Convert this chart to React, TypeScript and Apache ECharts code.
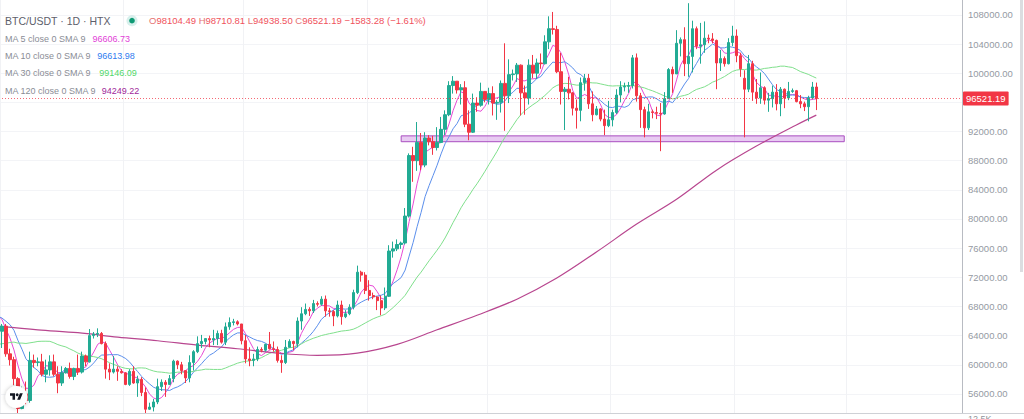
import React, { useEffect, useRef } from "react";
import * as echarts from "echarts";

// Daily closes before the first visible candle (used only to warm up the moving averages)
const priorCloses = [
  62000, 60200, 57000, 56600, 58200, 55800, 56700, 58000, 57700, 57300,
  57900, 59200, 60800, 64700, 65000, 64100, 63900, 66700, 67100, 68200,
  67600, 65900, 65400, 65800, 67900, 68000, 68200, 66800, 66200,
];

// Visible daily candles: [open, high, low, close]
const candles: number[][] = [
  [66500, 66900, 64300, 64600], [64600, 65600, 62300, 65300], [65300, 65600, 61100, 61500], [61500, 62200, 59900, 60700],
  [60700, 61100, 57200, 58100], [58100, 58300, 49000, 54000], [54000, 57000, 53900, 56000], [56000, 57700, 54600, 55100],
  [55100, 61800, 54800, 60600], [60600, 61400, 59600, 60300], [60300, 61000, 59800, 60400], [60400, 61500, 58400, 58700],
  [58700, 60700, 57600, 59300], [59300, 61300, 58500, 60400], [60400, 61400, 58400, 58700], [58700, 59800, 56100, 57500],
  [57500, 59800, 57100, 58900], [58900, 59700, 58800, 59500], [59500, 60300, 58100, 58400], [58400, 59600, 57900, 59500],
  [59500, 61400, 58600, 59000], [59000, 61800, 58800, 61200], [61200, 61400, 59800, 60400], [60400, 64900, 60300, 64000],
  [64000, 64500, 63600, 64200], [64200, 65000, 63800, 64300], [64300, 64500, 62800, 62900], [62900, 63200, 58100, 59400],
  [59400, 60200, 57900, 59000], [59000, 61200, 58800, 59400], [59400, 59800, 57800, 59100], [59100, 59400, 58800, 58900],
  [58900, 59000, 57200, 57300], [57300, 59400, 57100, 59100], [59100, 59800, 57400, 57500], [57500, 58500, 55600, 58000],
  [58000, 58300, 55700, 56200], [56200, 56900, 52600, 53900], [53900, 54800, 53800, 54200], [54200, 55300, 53600, 54900],
  [54900, 58100, 54600, 57000], [57000, 58000, 56400, 57600], [57600, 57900, 55600, 57300], [57300, 58600, 57300, 58100],
  [58100, 60700, 57600, 60500], [60500, 60600, 59400, 60000], [60000, 60400, 58700, 59200], [59200, 59200, 57500, 58200],
  [58200, 61300, 57600, 60300], [60300, 62000, 59200, 61800], [61800, 63900, 61600, 62900], [62900, 64100, 62300, 63200],
  [63200, 63600, 62800, 63600], [63600, 64000, 62400, 63400], [63400, 64800, 62700, 63600], [63600, 64700, 62700, 64300],
  [64300, 64800, 62900, 63100], [63100, 65800, 62700, 65200], [65200, 66500, 64800, 65800], [65800, 66300, 65400, 65900],
  [65900, 66100, 65400, 65600], [65600, 65600, 62800, 63300], [63300, 64100, 60200, 60800], [60800, 62400, 59800, 60600],
  [60600, 61500, 59800, 60800], [60800, 62500, 60500, 62100], [62100, 62400, 61700, 62000], [62000, 62900, 61800, 62800],
  [62800, 64500, 62100, 62200], [62200, 63200, 61800, 62100], [62100, 62500, 60300, 60600], [60600, 61300, 58900, 60300],
  [60300, 63400, 60100, 62400], [62400, 63500, 62400, 63200], [63200, 63300, 62000, 62900], [62900, 66500, 62400, 66000],
  [66000, 67900, 64800, 67000], [67000, 68400, 66800, 67600], [67600, 67900, 66700, 67400], [67400, 68900, 67100, 68400],
  [68400, 68700, 68000, 68300], [68300, 69400, 68100, 69000], [69000, 69500, 66600, 67400], [67400, 67800, 66600, 67300],
  [67300, 67500, 65300, 66700], [66700, 68800, 66500, 68200], [68200, 68800, 65500, 66600], [66600, 67500, 66400, 67000],
  [67000, 68300, 66800, 67900], [67900, 70300, 67600, 69900], [69900, 73600, 69700, 72700], [72700, 72900, 71400, 72300],
  [72300, 72700, 69700, 70200], [70200, 71600, 68800, 69500], [69500, 69900, 69000, 69300], [69300, 69400, 67500, 68800],
  [68800, 69500, 66800, 67800], [67800, 70600, 67500, 69400], [69400, 76400, 69300, 75600], [75600, 76900, 74700, 75900],
  [75900, 77200, 75600, 76500], [76500, 76900, 75900, 76700], [76700, 81500, 76500, 80400], [80400, 89000, 80200, 88700],
  [88700, 89900, 85100, 88000], [88000, 93300, 86600, 90500], [90500, 91800, 86700, 87400], [87400, 91900, 87100, 91100],
  [91100, 91500, 90100, 90600], [90600, 91400, 88800, 89800], [89800, 92600, 89400, 90500], [90500, 94000, 90400, 92300],
  [92300, 94900, 91500, 94300], [94300, 98900, 94100, 98300], [98300, 99600, 97200, 98900], [98900, 98900, 97200, 97700],
  [97700, 98500, 95700, 98000], [98000, 98900, 92600, 93000], [93000, 94900, 90800, 91900], [91900, 97200, 91800, 95900],
  [95900, 96700, 94700, 95600], [95600, 98700, 95400, 97500], [97500, 97500, 96000, 96400], [96400, 98000, 95700, 97200],
  [97200, 98200, 94200, 95900], [95900, 96300, 93600, 96000], [96000, 99000, 94600, 98600], [98600, 104100, 92100, 96900],
  [96900, 101900, 95900, 99800], [99800, 100500, 99000, 99900], [99900, 101400, 98800, 101100], [101100, 101200, 94200, 97300],
  [97300, 98300, 94300, 96600], [96600, 101900, 95700, 101100], [101100, 102500, 99300, 100000], [100000, 102000, 99200, 101400],
  [101400, 102700, 100600, 101300], [101300, 105200, 101200, 104300], [104300, 107800, 103300, 106100], [106100, 108400, 105300, 106000],
  [106000, 106500, 100000, 100200], [100200, 102800, 95700, 97500], [97500, 98100, 92200, 97800], [97800, 99500, 96400, 97300],
  [97300, 97400, 94200, 95200], [95200, 96400, 92400, 94900], [94900, 99400, 93400, 98700], [98700, 99900, 97600, 99300],
  [99300, 99900, 95100, 95800], [95800, 97500, 93400, 94300], [94300, 95500, 94200, 95100], [95100, 95200, 93400, 93700],
  [93700, 95000, 91500, 92800], [92800, 96200, 92600, 93600], [93600, 95000, 92700, 94600], [94600, 97800, 94400, 97000],
  [97000, 98900, 96000, 98100], [98100, 98700, 97500, 98200], [98200, 98800, 97300, 98300], [98300, 102500, 97900, 102100],
  [102100, 102700, 96100, 96900], [96900, 97300, 92500, 95000], [95000, 95400, 91200, 92500], [92500, 95800, 92200, 94700],
  [94700, 95000, 93800, 94600], [94600, 95400, 93700, 94500], [94500, 95900, 89300, 94400], [94400, 97400, 94300, 96500],
  [96500, 100700, 96500, 100500], [100500, 100900, 97300, 99900], [99900, 105900, 99900, 104100], [104100, 104900, 102300, 104600],
  [104600, 106300, 99600, 101300], [101300, 109600, 99500, 102300], [102300, 107200, 100100, 106100], [106100, 106400, 103300, 103700],
  [103700, 106900, 101300, 103900], [103900, 107100, 102800, 104800], [104800, 105300, 104100, 104700], [104700, 105500, 104100, 104500],
  [104500, 104600, 97800, 101400], [101400, 103200, 100300, 102000], [102000, 102300, 100900, 101300], [101300, 104800, 101200, 104200],
  [104200, 106500, 103700, 105100], [105100, 106000, 101500, 102400], [102400, 102800, 99500, 100600], [99300, 100400, 91200, 97800],
  [97800, 102500, 97400, 101300], [101300, 101700, 96200, 97400], [97400, 99200, 95800, 96600], [96600, 100100, 95800, 98000],
  [98000, 98200, 95700, 96300], [96300, 97300, 94700, 96500], [96500, 98300, 95300, 97400], [97400, 98500, 94900, 95800],
  [95800, 98100, 94100, 97800], [97800, 97900, 95200, 96600], [96600, 98800, 96300, 97500], [97500, 97900, 97300, 97600],
  [97600, 97700, 96000, 96100], [96100, 97000, 95200, 95800], [95800, 96100, 94800, 95400], [95400, 96900, 93400, 96600],
  [96600, 98800, 96400, 98100], [98104.49, 98710.81, 94938.5, 96521.19],
];

// MA 120 at every tenth candle: [candle index, value]
const ma120Read: number[][] = [
  [0, 65300], [10, 64800], [20, 64400], [30, 63800], [40, 63300], [50, 62700], [60, 62200],
  [70, 61600], [80, 61300], [90, 61600], [100, 62800], [110, 64800], [120, 66800], [130, 69000],
  [140, 71900], [150, 75500], [160, 79300], [170, 82700], [180, 86700], [190, 90000], [200, 92900],
  [205, 94249.22],
];

const startDate = "2024-07-31";
const totalSlots = 242;
const supportBand = { fromIndex: 101, toIndex: 212, low: 90600, high: 91400 };

const header = { title: "BTC/USDT · 1D · HTX", change: "−1583.28", pct: "(−1.61%)" };
const maLegend = [
  { name: "MA 5", label: "MA 5 close 0 SMA 9", value: "96606.73", color: "#e23fd8", line: "#e84ad6", valueX: 92.5, y: 38.5 },
  { name: "MA 10", label: "MA 10 close 0 SMA 9", value: "96613.98", color: "#2f7cf0", line: "#5b8fec", valueX: 97.3, y: 55.8 },
  { name: "MA 30", label: "MA 30 close 0 SMA 9", value: "99146.09", color: "#52d86a", line: "#7fe08c", valueX: 99.3, y: 73 },
  { name: "MA 120", label: "MA 120 close 0 SMA 9", value: "94249.22", color: "#a0289a", line: "#b8468f", valueX: 101.7, y: 91 },
];
const maLengths = [5, 10, 30];

const UP = "#22ab94";
const DOWN = "#f23645";
const FONT = '"Liberation Sans", Arial, sans-serif';

function makeDates(): string[] {
  const out: string[] = [];
  const base = new Date(startDate + "T00:00:00Z").getTime();
  for (let i = 0; i < totalSlots; i++) {
    out.push(new Date(base + i * 86400000).toISOString().slice(0, 10));
  }
  return out;
}

function sma(closes: number[], n: number): (number | null)[] {
  const all = [...priorCloses, ...closes];
  const P = priorCloses.length;
  return closes.map((_, i) => {
    const end = P + i;
    const start = end - n + 1;
    if (start < 0) return null;
    let s = 0;
    for (let k = start; k <= end; k++) s += all[k];
    return +(s / n).toFixed(2);
  });
}

const fmt = (v: number) => v.toFixed(2);

export default function App() {
  const ref = useRef<HTMLDivElement>(null);

  useEffect(() => {
    if (!ref.current) return;
    const chart = echarts.init(ref.current, undefined, { renderer: "svg" });

    const dates = makeDates();
    const closes = candles.map((c) => c[3]);
    const last = candles[candles.length - 1];
    const kData = candles.map((c) => [c[0], c[3], c[2], c[1]]);

    echarts.graphic.registerShape(
      "tvlogo",
      echarts.graphic.extendPath("M14 22H7V11H0V4h14v18zM28 22h-8l7.5-18h8L28 22z", {})
    );

    const maSeries: any[] = maLengths.map((n, k) => ({
      name: maLegend[k].name,
      type: "line",
      data: sma(closes, n),
      showSymbol: false,
      symbol: "none",
      lineStyle: { color: maLegend[k].line, width: 1 },
      z: 3,
    }));
    maSeries.push({
      name: maLegend[3].name,
      type: "line",
      data: ma120Read,
      smooth: 0.35,
      showSymbol: false,
      symbol: "none",
      lineStyle: { color: maLegend[3].line, width: 1.2 },
      z: 3,
    });

    const graphics: any[] = [
      // top clip over price scale
      { type: "rect", z: 100, shape: { x: 963, y: 0, width: 56, height: 12 }, style: { fill: "#fff" } },
      // bottom pane separator + volume label
      { type: "rect", z: 100, shape: { x: 0, y: 413.5, width: 1024, height: 6 }, style: { fill: "#fff" } },
      { type: "line", z: 101, shape: { x1: 0, y1: 413.5, x2: 1024, y2: 413.5 }, style: { stroke: "#cfd1d6", lineWidth: 1 } },
      { type: "text", z: 101, x: 968, y: 414.5, style: { text: "12.5K", fill: "#8f929a", fontSize: 9, fontFamily: FONT } },
      // scrollbar
      { type: "rect", z: 100, shape: { x: 1020, y: 0, width: 3, height: 272 }, style: { fill: "#dcdde0" } },
      // header title
      {
        type: "text", z: 100, x: 5, y: 20.7,
        style: { text: header.title, fill: "#5d606b", fontSize: 10.5, fontFamily: FONT, verticalAlign: "middle" },
      },
      { type: "circle", z: 100, shape: { cx: 132, cy: 20.7, r: 5.5 }, style: { fill: "rgba(34,171,148,0.18)" } },
      { type: "circle", z: 101, shape: { cx: 132, cy: 20.7, r: 2.8 }, style: { fill: "#0e9a74" } },
      {
        type: "text", z: 100, x: 149, y: 20.7,
        style: {
          text:
            `{l|O}{v|${fmt(last[0])}} {l|H}{v|${fmt(last[1])}} {l|L}{v|${fmt(last[2])}} {l|C}{v|${fmt(last[3])}} {v|${header.change} ${header.pct}}`,
          fontSize: 9.5,
          fontFamily: FONT,
          verticalAlign: "middle",
          rich: {
            l: { fill: "#e57373", fontSize: 9.5, fontFamily: FONT },
            v: { fill: "#f0525c", fontSize: 9.5, fontFamily: FONT },
          },
        },
      },
      // TradingView logo
      {
        type: "circle", z: 100, shape: { cx: 16.5, cy: 397, r: 11 },
        style: { fill: "#fff", shadowBlur: 4, shadowColor: "rgba(0,0,0,0.25)" },
      },
      { type: "tvlogo", z: 101, x: 10, y: 391.8, scaleX: 0.36, scaleY: 0.36, style: { fill: "#131722" } },
      { type: "circle", z: 101, shape: { cx: 17.2, cy: 394.7, r: 1.45 }, style: { fill: "#131722" } },
    ];
    maLegend.forEach((m) => {
      graphics.push({
        type: "text", z: 100, x: 5, y: m.y,
        style: { text: m.label, fill: "#8a8d96", fontSize: 9, fontFamily: FONT, verticalAlign: "middle" },
      });
      graphics.push({
        type: "text", z: 100, x: m.valueX, y: m.y,
        style: { text: m.value, fill: m.color, fontSize: 9, fontFamily: FONT, verticalAlign: "middle" },
      });
    });

    chart.setOption({
      animation: false,
      backgroundColor: "#ffffff",
      grid: { left: -4, right: 62, top: -14.3, bottom: -4.1, outerBoundsMode: "none", containLabel: false },
      xAxis: {
        type: "category",
        data: dates,
        boundaryGap: true,
        axisLine: { show: false },
        axisTick: { show: false },
        axisLabel: { show: false },
        splitLine: {
          show: true,
          interval: (i: number) => dates[i] && dates[i].endsWith("-01"),
          lineStyle: { color: "#f1f2f5", width: 1 },
        },
      },
      yAxis: {
        type: "value",
        position: "right",
        min: 52000,
        max: 112000,
        interval: 4000,
        axisLine: { show: true, lineStyle: { color: "#b8bbc2", width: 1 } },
        axisTick: { show: false },
        axisLabel: {
          color: "#959aa3",
          fontSize: 9.5,
          fontFamily: FONT,
          margin: 6,
          showMinLabel: false,
          showMaxLabel: false,
          formatter: (v: number) => (Math.abs(v - last[3]) < 2000 ? "" : v.toFixed(2)),
        },
        splitLine: { show: true, lineStyle: { color: "#f3f4f7", width: 1 } },
      },
      series: [
        {
          type: "candlestick",
          data: kData,
          barWidth: "72%",
          itemStyle: { color: UP, color0: DOWN, borderColor: UP, borderColor0: DOWN, borderWidth: 1 },
          z: 4,
          markLine: {
            silent: true,
            symbol: ["none", "none"],
            data: [{ yAxis: last[3] }],
            lineStyle: { color: "rgba(242,54,69,0.75)", type: [1, 2], width: 1 },
            label: {
              show: true,
              position: "end",
              distance: 1,
              formatter: () => fmt(last[3]),
              color: "#fff",
              backgroundColor: DOWN,
              padding: [2, 3, 2, 3],
              borderRadius: 1,
              fontSize: 9.5,
              fontFamily: FONT,
            },
          },
          markArea: {
            silent: true,
            itemStyle: { color: "rgba(214,160,232,0.55)", borderColor: "#a94fc0", borderWidth: 1 },
            data: [[
              { xAxis: supportBand.fromIndex, yAxis: supportBand.high },
              { xAxis: supportBand.toIndex, yAxis: supportBand.low },
            ]],
          },
        },
        ...maSeries,
      ],
      graphic: { elements: graphics },
    });

    return () => chart.dispose();
  }, []);

  return <div ref={ref} style={{ position: "fixed", left: 0, top: 0, width: 1024, height: 419 }} />;
}
